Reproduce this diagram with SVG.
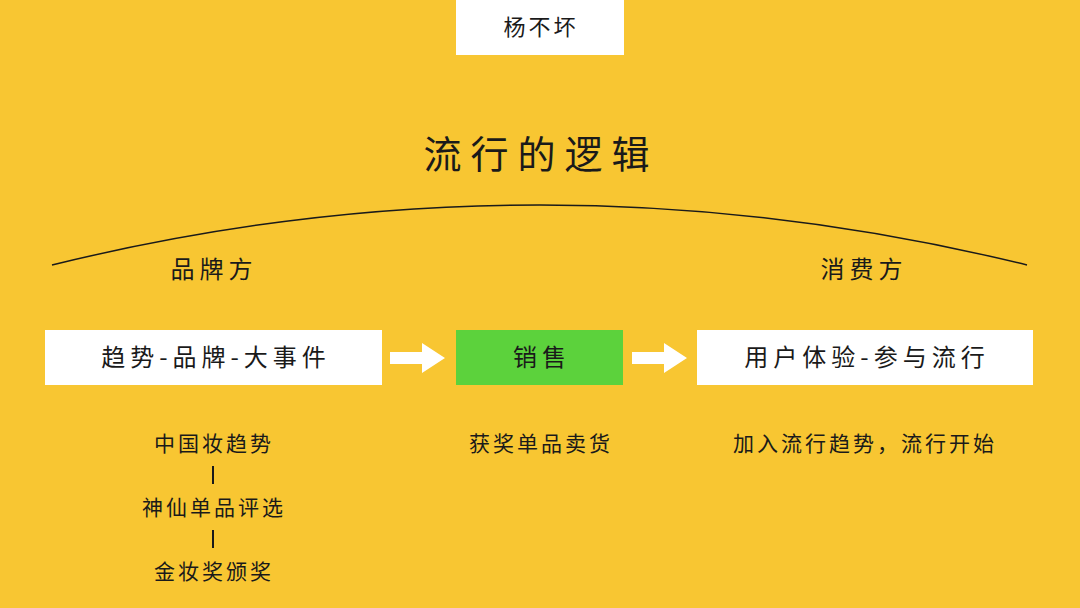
<svg xmlns="http://www.w3.org/2000/svg" width="1080" height="608" viewBox="0 0 1080 608">
<style>
text{font-family:"Noto Sans CJK SC","Noto Sans",sans-serif;fill:#1a1a1a;text-anchor:middle}
.b{fill:#fff}
.t{font-size:24px;letter-spacing:5px}
.s{font-size:21px;letter-spacing:3px}
</style>
<defs><polygon id="arr" points="0,-6 32,-6 32,-15 55,0 32,15 32,6 0,6" fill="#fff"/></defs>
<rect width="1080" height="608" fill="#F8C632"/>
<g id="author"><rect x="456" y="0" width="168" height="55" class="b"/><text x="541" y="35" class="s" style="font-size:22px;letter-spacing:3px">杨不坏</text></g>
<g id="title"><text x="541" y="168" style="font-size:38px;letter-spacing:9px">流行的逻辑</text></g>
<g id="connectors">
<path d="M52,265 Q540,145 1027,265" fill="none" stroke="#1a1a1a" stroke-width="1.5"/>
<use href="#arr" x="390" y="358"/>
<use href="#arr" x="632" y="358"/>
<line x1="213" y1="466" x2="213" y2="484" stroke="#1a1a1a" stroke-width="2"/>
<line x1="213" y1="530" x2="213" y2="548" stroke="#1a1a1a" stroke-width="2"/>
</g>
<g id="brand"><text x="214" y="278" class="t">品牌方</text></g>
<g id="consumer"><text x="864" y="278" class="t">消费方</text></g>
<g id="n1"><rect x="45" y="330" width="337" height="55" class="b"/><text x="216" y="366" class="t">趋势-品牌-大事件</text></g>
<g id="n2"><rect x="456" y="330" width="167" height="55" fill="#5CD23C"/><text x="542" y="366" class="t">销售</text></g>
<g id="n3"><rect x="697" y="330" width="336" height="55" class="b"/><text x="867" y="366" class="t">用户体验-参与流行</text></g>
<g id="l1"><text x="214" y="451" class="s">中国妆趋势</text><text x="214" y="515" class="s">神仙单品评选</text><text x="214" y="579" class="s">金妆奖颁奖</text></g>
<g id="l2"><text x="541" y="451" class="s">获奖单品卖货</text></g>
<g id="l3"><text x="865" y="451" class="s">加入流行趋势，流行开始</text></g>
</svg>
